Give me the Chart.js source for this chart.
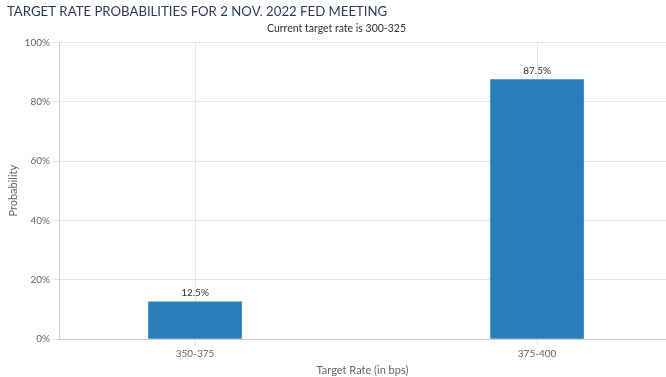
<!DOCTYPE html>
<html>
<head>
<meta charset="utf-8">
<script src="https://cdn.jsdelivr.net/npm/chart.js@4.4.0/dist/chart.umd.min.js"></script>
<style>
  html, body { margin: 0; padding: 0; background: #fff; }
  #wrap { width: 666px; height: 377px; }
</style>
</head>
<body>
<div id="wrap"><canvas id="chart" width="666" height="377"></canvas></div>
<script>
// chart data
const categories = ['350-375', '375-400']
const probabilities = [12.5, 87.5]
const yTicks = [0, 20, 40, 60, 80, 100]

const titleText = 'TARGET RATE PROBABILITIES FOR 2 NOV. 2022 FED MEETING'
const subtitleText = 'Current target rate is 300-325'
const FONT = "Lato, 'Open Sans', sans-serif"

// labels above the bars
const barLabels = {
  id: 'barLabels',
  afterDatasetsDraw(chart) {
    const ctx = chart.ctx
    const meta = chart.getDatasetMeta(0)
    ctx.save()
    ctx.font = "10px " + FONT
    ctx.fillStyle = '#333333'
    ctx.textAlign = 'center'
    ctx.textBaseline = 'middle'
    meta.data.forEach(function(bar, i) {
      ctx.fillText(probabilities[i].toFixed(1) + '%', bar.x, bar.y - 9)
    })
    ctx.restore()
  }
}

new Chart(document.getElementById('chart'), {
  type: 'bar',
  data: {
    datasets: [{
      label: 'Probability',
      data: categories.map((c, i) => ({ x: i, y: probabilities[i] })),
      backgroundColor: '#2a7fba',
      borderColor: '#2a7fba',
      borderWidth: 0,
      barThickness: 93
    }]
  },
  options: {
    responsive: false,
    animation: false,
    layout: { padding: { left: 7, right: 0, top: 0, bottom: 0 } },
    plugins: {
      legend: { display: false },
      tooltip: { enabled: false },
      title: {
        display: true,
        text: titleText,
        align: 'start',
        color: '#2e3b55',
        font: { family: FONT, size: 13.2, weight: 'normal' },
        padding: { top: 4, bottom: 1 }
      },
      subtitle: {
        display: true,
        text: subtitleText,
        color: '#333333',
        font: { family: FONT, size: 10.5, weight: 'normal' },
        padding: { top: 1, bottom: 8 }
      }
    },
    scales: {
      x: {
        type: 'linear',
        offset: false,
        min: -0.3977,
        max: 1.377,
        afterBuildTicks(scale) {
          scale.ticks = categories.map((c, i) => ({ value: i }))
        },
        ticks: {
          color: '#666666',
          font: { family: FONT, size: 10 },
          padding: 3,
          maxRotation: 0,
          callback: (v) => categories[v]
        },
        grid: { color: '#e6e6e6', tickLength: 6, offset: false },
        border: { color: '#cccccc', width: 1 },
        title: {
          display: true,
          text: 'Target Rate (in bps)',
          color: '#666666',
          font: { family: FONT, size: 11 },
          padding: { top: 0, bottom: 0 }
        },
        afterFit(scale) { scale.height = 38 }
      },
      y: {
        min: 0,
        max: 100,
        afterBuildTicks(scale) {
          scale.ticks = yTicks.map(v => ({ value: v }))
        },
        ticks: {
          color: '#666666',
          font: { family: FONT, size: 10 },
          padding: 2,
          callback: (v) => v + '%'
        },
        grid: { color: '#e6e6e6', tickLength: 7 },
        border: { color: '#cccccc', width: 1 },
        title: {
          display: true,
          text: 'Probability',
          color: '#666666',
          font: { family: FONT, size: 11 },
          padding: { top: 0, bottom: 0 }
        },
        afterFit(scale) { scale.width = 52 }
      }
    }
  },
  plugins: [barLabels]
})
</script>
</body>
</html>
